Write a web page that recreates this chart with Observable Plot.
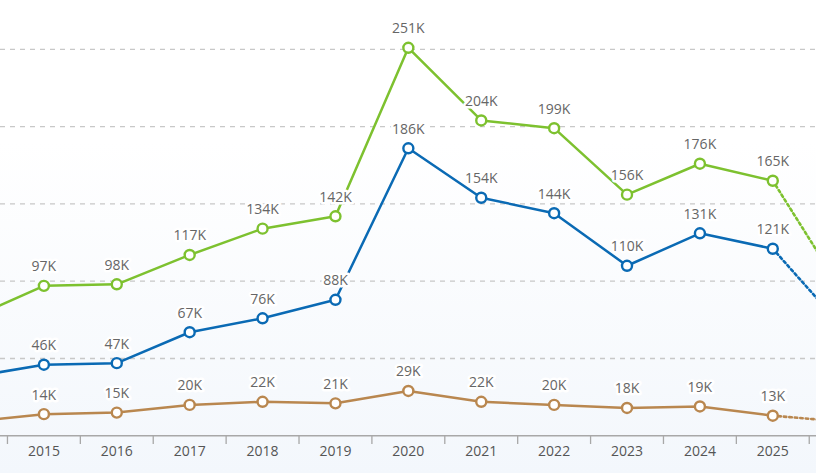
<!DOCTYPE html>
<html><head><meta charset="utf-8">
<script src="https://cdn.jsdelivr.net/npm/d3@7"></script>
<script src="https://cdn.jsdelivr.net/npm/@observablehq/plot@0.6"></script>
<style>html,body{margin:0;padding:0;overflow:hidden;background:#fff}#chart svg{overflow:hidden}</style>
</head><body><div id="chart"></div>
<script>
// Data (values in thousands)
const years = [2014, 2015, 2016, 2017, 2018, 2019, 2020, 2021, 2022, 2023, 2024, 2025, 2026];
const labelYears = [2015, 2016, 2017, 2018, 2019, 2020, 2021, 2022, 2023, 2024, 2025];
const seriesNames = ["Series A", "Series B", "Series C"];
const seriesA = [76, 97, 98, 117, 134, 142, 251, 204, 199, 156, 176, 165, 90];
const seriesB = [38, 46, 47, 67, 76, 88, 186, 154, 144, 110, 131, 121, 68];
const seriesC = [9, 14, 15, 20, 22, 21, 29, 22, 20, 18, 19, 13, 9];
const lastActualYear = 2025;
const gridValues = [50, 100, 150, 200, 250];
const seriesColors = ["#7dc12f", "#0a6ab4", "#b9874f"];

const rows = years.flatMap((year, i) => [
  {year, value: seriesA[i], series: seriesNames[0]},
  {year, value: seriesB[i], series: seriesNames[1]},
  {year, value: seriesC[i], series: seriesNames[2]}
]);
const actual = rows.filter(d => d.year <= lastActualYear);
const projected = rows.filter(d => d.year >= lastActualYear);
const labeled = rows.filter(d => labelYears.includes(d.year));
const bandEdges = years.map(y => y + 0.5);

const chart = Plot.plot({
  width: 816,
  height: 473,
  marginTop: 0,
  marginBottom: 38,
  marginLeft: 0,
  marginRight: 0,
  style: "background: linear-gradient(180deg, #ffffff 0%, #ffffff 30%, #f3f7fc 100%); font-family: 'Open Sans', sans-serif;",
  x: {type: "linear", domain: [2015, 2025], range: [43.4, 772.3], axis: null, label: null},
  y: {domain: [0, 281.6], range: [435.3, 0], axis: null, label: null},
  color: {domain: seriesNames, range: seriesColors},
  marks: [
    Plot.gridY(gridValues, {stroke: "#c8c8c8", strokeOpacity: 1, strokeWidth: 1.3, strokeDasharray: "5,5"}),
    Plot.ruleY([0], {stroke: "#a8a8a8", strokeWidth: 1.5}),
    Plot.axisX({ticks: bandEdges, tickSize: 9, tickFormat: () => "", label: null, stroke: "#a8a8a8", strokeWidth: 1.3}),
    Plot.axisX({ticks: labelYears, tickSize: 0, tickPadding: 11, tickFormat: d => String(d), label: null, fontSize: 14, color: "#555"}),
    Plot.line(actual, {x: "year", y: "value", stroke: "series", strokeWidth: 2.5}),
    Plot.line(projected, {x: "year", y: "value", stroke: "series", strokeWidth: 2.6, strokeDasharray: "2.5,3"}),
    Plot.dot(rows, {x: "year", y: "value", stroke: "series", fill: "white", r: 5, strokeWidth: 2.4}),
    Plot.text(labeled, {x: "year", y: "value", text: d => `${d.value}K`, dy: -19, fontSize: 14, fill: "#666", stroke: "white", strokeWidth: 5, paintOrder: "stroke"})
  ]
});
document.getElementById("chart").appendChild(chart);
</script>
</body></html>
